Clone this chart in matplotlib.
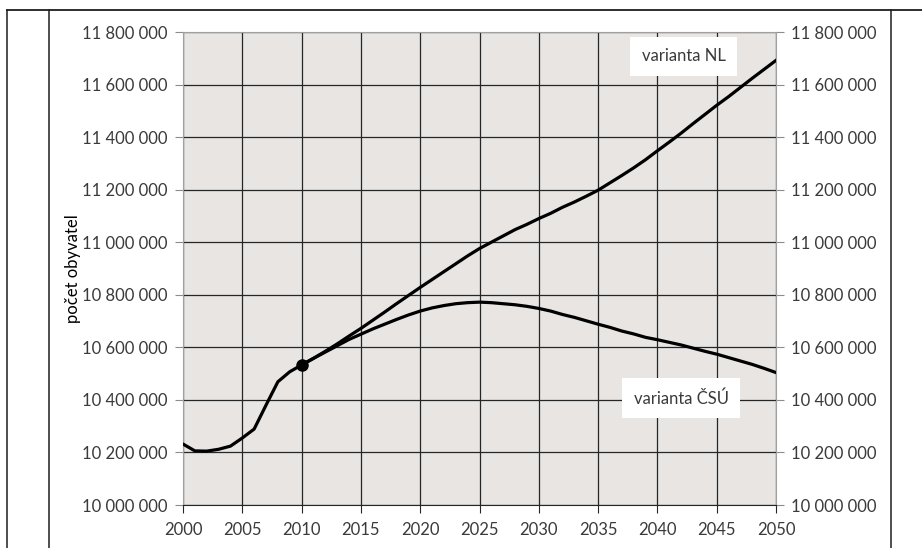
import numpy as np
import matplotlib.pyplot as plt
from matplotlib.ticker import FuncFormatter
from matplotlib.lines import Line2D

# historical part 2000-2010
hist_years = list(range(2000, 2011))
hist_pop = [10232, 10206, 10205, 10212, 10224, 10255, 10289, 10380, 10469, 10507, 10533]

# projections 2010-2050 (thousands)
proj_years = list(range(2010, 2051))
nl_pop = [10533, 10558, 10585, 10613, 10643, 10672, 10703, 10734, 10766, 10797,
          10828, 10858, 10888, 10918, 10948, 10976, 11000, 11024, 11048, 11068,
          11090, 11110, 11133, 11153, 11175, 11198, 11226, 11254, 11283, 11314,
          11348, 11381, 11415, 11451, 11486, 11521, 11554, 11589, 11624, 11658,
          11692]
csu_pop = [10533, 10558, 10582, 10606, 10630, 10650, 10670, 10688, 10706, 10723,
           10738, 10750, 10759, 10766, 10770, 10772, 10770, 10766, 10762, 10756,
           10748, 10738, 10725, 10714, 10701, 10688, 10676, 10662, 10651, 10638,
           10629, 10619, 10609, 10597, 10585, 10574, 10561, 10548, 10535, 10520,
           10504]

plt.rcParams['font.family'] = ['Lato', 'DejaVu Sans']
txt = '#3a3a3a'
fs = 12

fig = plt.figure(figsize=(9.22, 5.48), dpi=100)
ax = fig.add_axes([183/922, 1 - 505/548, (776-183)/922, (505-32)/548])
ax.set_facecolor('#e8e5e3')

hp = np.array(hist_pop) * 1000
ax.plot(hist_years, hp, color='black', lw=2.3, solid_capstyle='round', zorder=3)
ax.plot(proj_years, np.array(nl_pop) * 1000, color='black', lw=2.3, zorder=3)
ax.plot(proj_years, np.array(csu_pop) * 1000, color='black', lw=2.3, zorder=3)
ax.plot([hist_years[-1]], [hp[-1]], 'o', color='black', ms=8, zorder=4)

ax.set_xlim(2000, 2050)
ax.set_ylim(10_000_000, 11_800_000)
ax.set_xticks(range(2000, 2051, 5))
ax.set_yticks(range(10_000_000, 11_800_001, 200_000))
fmt = FuncFormatter(lambda v, p: f"{int(v):,}".replace(",", " "))
ax.yaxis.set_major_formatter(fmt)
ax.grid(True, color='#262626', lw=0.9)
ax.set_axisbelow(True)

ax.tick_params(axis='y', direction='out', length=6, color='#8c8c8c', labelsize=fs,
               labelcolor=txt, pad=5, right=True, labelright=True)
ax.tick_params(axis='x', direction='out', length=6, color='#262626', labelsize=fs,
               labelcolor=txt, pad=6)
for s in ['left', 'right', 'top']:
    ax.spines[s].set_color('#a0a0a0')
ax.spines['bottom'].set_color('#262626')

ax.set_ylabel('počet obyvatel', fontsize=fs, color='black', labelpad=1)

box = dict(boxstyle='square,pad=0.7', fc='white', ec='none')
ax.text(2042.2, 11_707_000, 'varianta NL', ha='center', va='center', fontsize=fs,
        color=txt, bbox=box, zorder=5)
ax.text(2042.0, 10_406_000, 'varianta ČSÚ', ha='center', va='center', fontsize=fs,
        color=txt, bbox=box, zorder=5)

# table frame around the chart
fc = '#1e1e1e'
fig.add_artist(Line2D([7/922, 1], [1 - 10/548] * 2, color=fc, lw=1.3))
for xp in [7, 49, 891]:
    fig.add_artist(Line2D([xp/922] * 2, [0, 1 - 10/548], color=fc, lw=1.1))

fig.savefig('out.png', dpi=100)
